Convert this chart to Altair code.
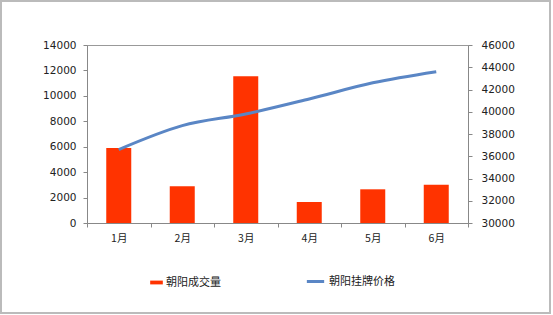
import altair as alt
import pandas as pd

months = ["1月", "2月", "3月", "4月", "5月", "6月"]
volume = [5900, 2900, 11550, 1650, 2650, 3000]
price = [36600, 38750, 39800, 41150, 42600, 43600]

df = pd.DataFrame({"month": months, "volume": volume, "price": price,
                   "s1": "朝阳成交量", "s2": "朝阳挂牌价格"})

W, H = 381, 178
PL, PT, PR, PB = 87, 45, 85, 92

font = "DejaVu Sans"
cjk = "Noto Sans CJK SC"

x = alt.X("month:N", sort=months, title=None,
          scale=alt.Scale(paddingInner=0, paddingOuter=0),
          axis=alt.Axis(labelAngle=0, labelFont=cjk, labelFontSize=10.5, labelColor="#222",
                        domainColor="#888", tickColor="#888", tickSize=4, tickBand="extent",
                        labelPadding=6, grid=False))

bars = alt.Chart(df).mark_bar(size=25).encode(
    x=x,
    y=alt.Y("volume:Q", title=None,
            scale=alt.Scale(domain=[0, 14000], nice=False),
            axis=alt.Axis(values=list(range(0, 14001, 2000)), format="d", labelFont=font,
                          labelFontSize=10.5, labelColor="#222", domainColor="#888",
                          tickColor="#888", tickSize=4, labelPadding=7, grid=False)),
    color=alt.Color("s1:N", scale=alt.Scale(range=["#FF3300"]),
                    legend=alt.Legend(title=None, orient="none", legendX=150 - PL, legendY=276 - PT,
                                      symbolType="M-1,-0.3H1V0.3H-1Z", symbolSize=160,
                                      symbolStrokeWidth=0, labelFont=cjk, labelFontSize=11,
                                      labelColor="#222", labelOffset=3)),
)

line = alt.Chart(df).mark_line(interpolate="monotone", strokeWidth=3, color="#5A86C5").encode(
    x=x,
    y=alt.Y("price:Q", title=None,
            scale=alt.Scale(domain=[30000, 46000], nice=False),
            axis=alt.Axis(orient="right", values=list(range(30000, 46001, 2000)), format="d",
                          labelFont=font, labelFontSize=10.5, labelColor="#222", domainColor="#888",
                          tickColor="#888", tickSize=4, labelPadding=9, grid=False)),
    stroke=alt.Stroke("s2:N", scale=alt.Scale(range=["#5A86C5"]),
                      legend=alt.Legend(title=None, orient="none", legendX=305 - PL, legendY=271 - PT,
                                        symbolType="stroke", symbolSize=300, symbolStrokeWidth=3,
                                        labelFont=cjk, labelFontSize=11, labelColor="#222",
                                        labelOffset=3)),
)

frame = alt.Chart(df).mark_rect(fill=None, stroke="#BBBBBB", strokeWidth=2).encode(
    x=alt.value(1 - PL), x2=alt.value(550 - PL), y=alt.value(1 - PT), y2=alt.value(313 - PT)
)

chart = alt.layer(frame, bars, line).resolve_scale(y="independent", color="independent").properties(
    width=W, height=H,
    autosize=alt.AutoSizeParams(type="none"),
    padding={"left": PL, "top": PT, "right": PR, "bottom": PB},
    background="white",
).configure_view(stroke="#999999", strokeWidth=1)

chart.save("out.html", embed_options={"renderer": "svg", "actions": False})
